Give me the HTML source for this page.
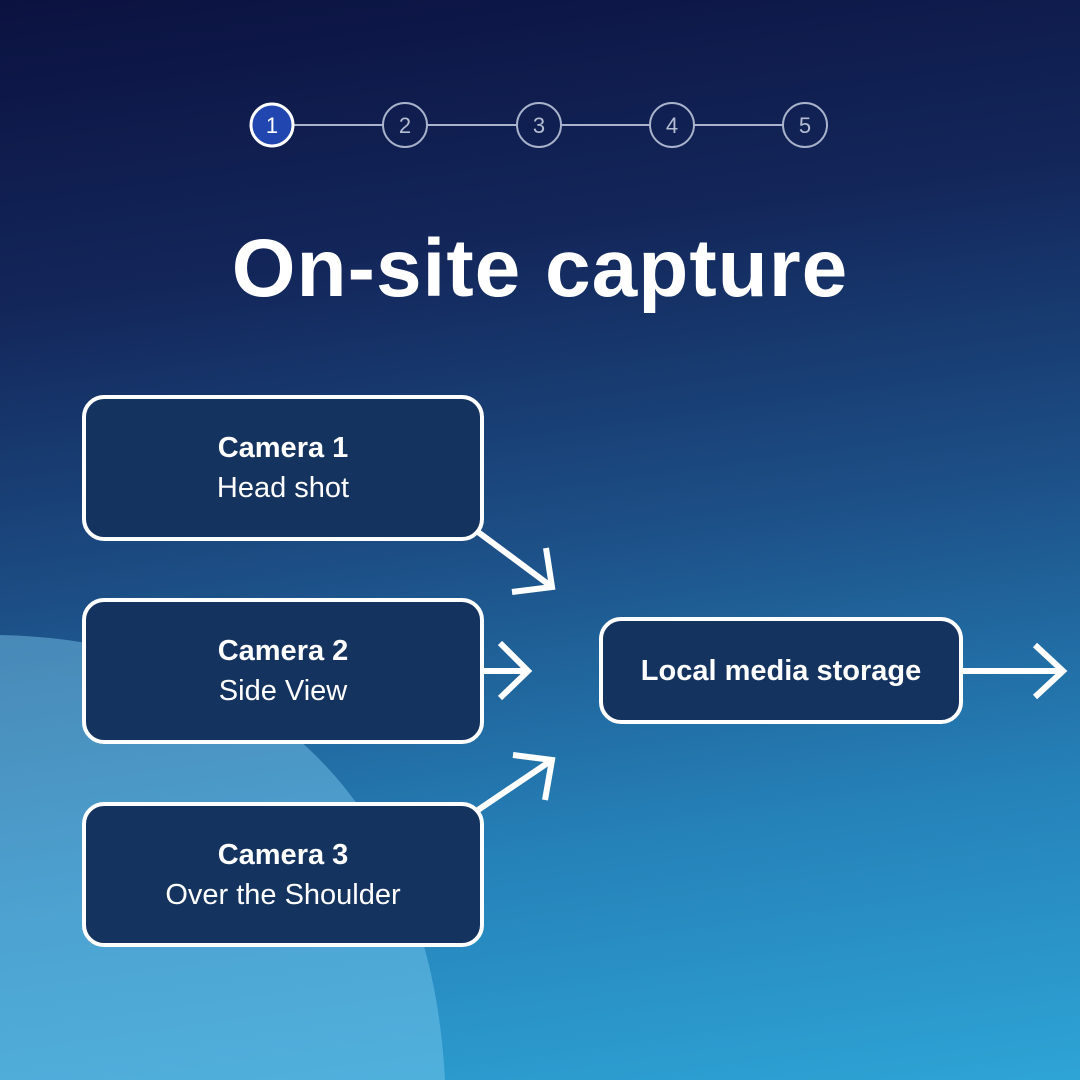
<!DOCTYPE html>
<html><head><meta charset="utf-8"><style>
html,body{margin:0;padding:0}
body{width:1080px;height:1080px;overflow:hidden;position:relative;font-family:"Liberation Sans",sans-serif;
background:linear-gradient(172deg,#0b1240 0%,#13265a 25%,#1c4f86 50%,#2581b8 75%,#2ea4d6 100%);}
.box{position:absolute;box-sizing:border-box;border:4px solid #fff;border-radius:22px;background:#15335f;color:#fff;text-align:center;display:flex;flex-direction:column;justify-content:center}
.b{font-weight:bold;font-size:29px;line-height:40px}
.n{font-size:29px;line-height:40px}
.title{position:absolute;left:0;width:1080px;top:222px;text-align:center;color:#fff;font-weight:bold;font-size:82px;letter-spacing:1px}
</style></head><body>
<svg width="1080" height="1080" style="position:absolute;left:0;top:0">
<path d="M0,635 C250,640 430,790 445,1080 L0,1080 Z" fill="#7fcdf0" opacity="0.45"/>
<g stroke="#aab3cc" stroke-width="2" fill="none">
<line x1="294" y1="125" x2="383" y2="125"/><line x1="427" y1="125" x2="517" y2="125"/>
<line x1="561" y1="125" x2="650" y2="125"/><line x1="694" y1="125" x2="783" y2="125"/>
<circle cx="405" cy="125" r="22"/><circle cx="539" cy="125" r="22"/><circle cx="672" cy="125" r="22"/><circle cx="805" cy="125" r="22"/>
</g>
<circle cx="272" cy="125" r="21" fill="#2146b0" stroke="#fff" stroke-width="3"/>
<g font-family="Liberation Sans" font-size="22" fill="#b5bdd3" text-anchor="middle">
<text x="272" y="133" fill="#fff">1</text><text x="405" y="133">2</text><text x="539" y="133">3</text><text x="672" y="133">4</text><text x="805" y="133">5</text>
</g>
<g stroke="#fff" stroke-width="6" fill="none" stroke-linecap="butt">
<line x1="478" y1="532" x2="552" y2="587"/><polyline points="546,548 552,587 512,592"/>
<line x1="484" y1="671" x2="528" y2="671"/><polyline points="500,643 528,671 500,698"/>
<line x1="478" y1="810" x2="552" y2="760"/><polyline points="513,755 552,760 545,800"/>
<line x1="963" y1="671" x2="1063" y2="671"/><polyline points="1035,645 1063,671 1035,697"/>
</g>
</svg>
<div class="title">On-site capture</div>
<div class="box" style="left:82px;top:395px;width:402px;height:146px"><div class="b">Camera 1</div><div class="n">Head shot</div></div>
<div class="box" style="left:82px;top:598px;width:402px;height:146px"><div class="b">Camera 2</div><div class="n">Side View</div></div>
<div class="box" style="left:82px;top:802px;width:402px;height:145px"><div class="b">Camera 3</div><div class="n">Over the Shoulder</div></div>
<div class="box" style="left:599px;top:617px;width:364px;height:107px"><div class="b">Local media storage</div></div>
</body></html>
